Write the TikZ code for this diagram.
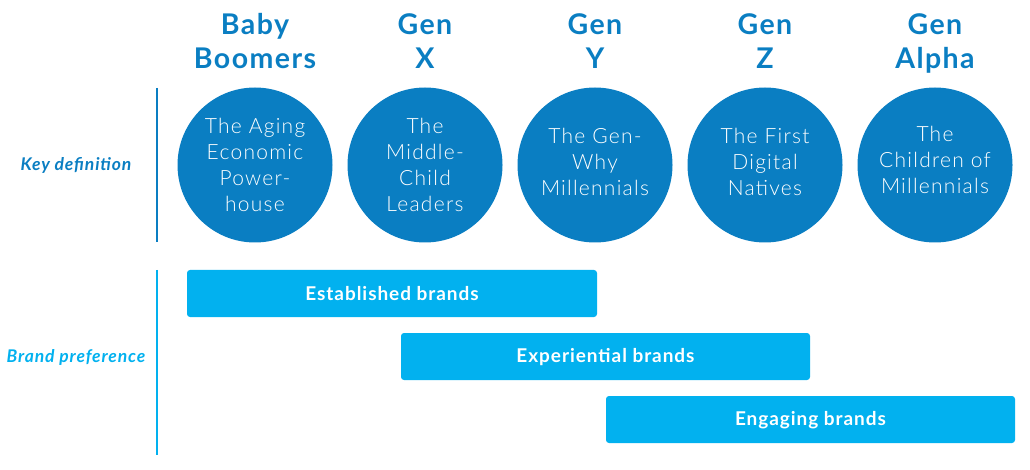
\documentclass[tikz,border=0pt]{standalone}
\usepackage{fontspec}
\setmainfont{Lato}
\newfontfamily\lightf{Lato Light}[LetterSpace=6]
\newfontfamily\boldsp{Lato}[LetterSpace=5]
\definecolor{darkb}{HTML}{0A7EC2}
\definecolor{lightb}{HTML}{02B1EF}
\begin{document}
\begin{tikzpicture}[x=1pt,y=-1pt,
  gencirc/.style={circle,fill=darkb,minimum size=155pt,inner sep=0pt},
  circtext/.style={text=white,align=center,font=\lightf\fontsize{21}{26}\selectfont},
  gentitle/.style={text=darkb,align=center,font=\boldsp\bfseries\fontsize{28.5}{34}\selectfont},
  bar/.style={fill=lightb,rounded corners=3pt},
  bartext/.style={text=white,font=\boldsp\bfseries\fontsize{19}{22}\selectfont},
  rowlabel/.style={font=\boldsp\bfseries\itshape\fontsize{17.5}{20}\selectfont},
  sep/.style={line width=2.5pt}]
\useasboundingbox (0,0) rectangle (1030,470);
% titles
\node[gentitle] (t1) at (255,45) {\strut Baby\\\strut Boomers};
\node[gentitle] (t2) at (425,45) {\strut Gen\\\strut X};
\node[gentitle] (t3) at (595,45) {\strut Gen\\\strut Y};
\node[gentitle] (t4) at (765,45) {\strut Gen\\\strut Z};
\node[gentitle] (t5) at (935,45) {\strut Gen\\\strut Alpha};
% circles
\node[gencirc] (c1) at (255,165) {};
\node[gencirc] (c2) at (425,165) {};
\node[gencirc] (c3) at (595,165) {};
\node[gencirc] (c4) at (765,165) {};
\node[gencirc] (c5) at (935,165) {};
\node[circtext] (d1) at (255,165) {The Aging\\Economic\\Power-\\house};
\node[circtext] (d2) at (425,165) {The\\Middle-\\Child\\Leaders};
\node[circtext] (d3) at (595,162) {The Gen-\\Why\\Millennials};
\node[circtext] (d4) at (765,162) {The First\\Digital\\Natives};
\node[circtext] (d5) at (935,160) {The\\Children of\\Millennials};
% row labels and separators
\node[rowlabel,text=darkb] (k) at (76,165) {Key definition};
\node[rowlabel,text=lightb] (b) at (76,357) {Brand preference};
\coordinate (s1a) at (157,88);
\coordinate (s1b) at (157,242);
\coordinate (s2a) at (157,270);
\coordinate (s2b) at (157,455);
\draw[sep,draw=darkb] (s1a) -- (s1b);
\draw[sep,draw=lightb] (s2a) -- (s2b);
% bars
\path[bar] (187,270) rectangle (597,317);
\node[bartext] (e1) at (392,294) {Established brands};
\path[bar] (401,333) rectangle (810,380);
\node[bartext] (e2) at (605.5,357) {Experiential brands};
\path[bar] (606,396) rectangle (1015,443);
\node[bartext] (e3) at (810.5,420) {Engaging brands};
\end{tikzpicture}
\end{document}
